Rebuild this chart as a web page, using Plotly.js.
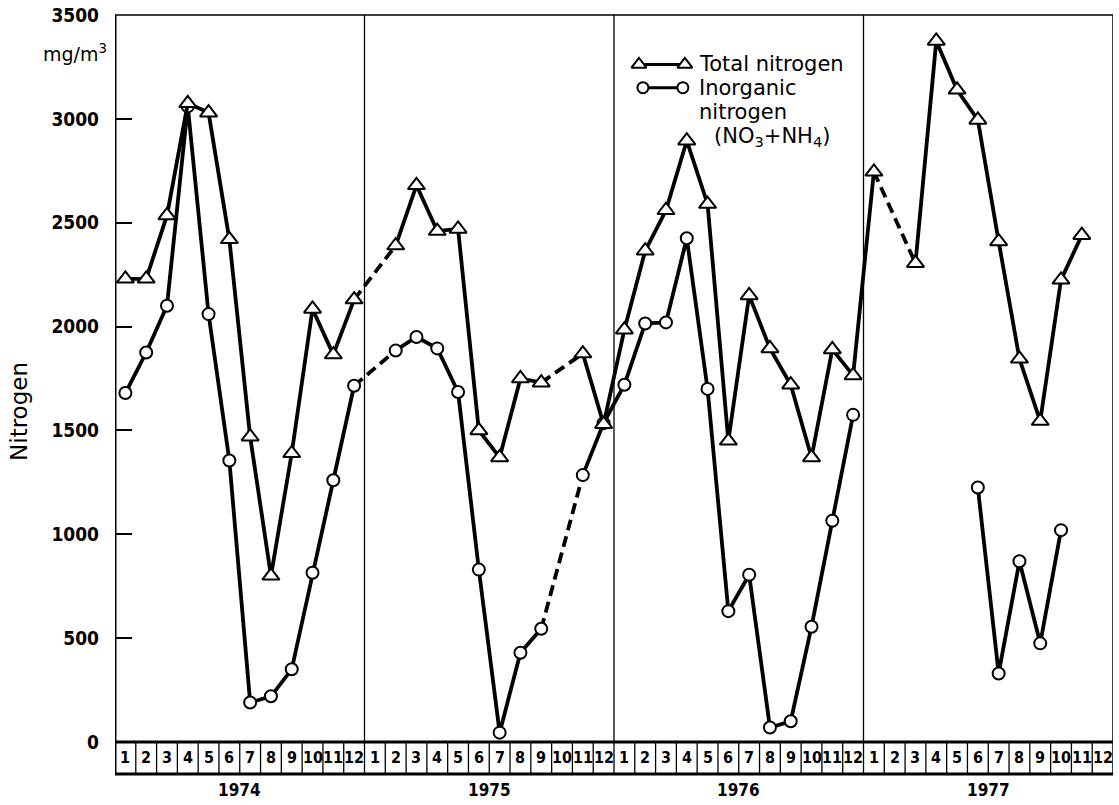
<!DOCTYPE html>
<html>
<head>
<meta charset="utf-8">
<script src="https://cdn.plot.ly/plotly-3.0.1.min.js"></script>
<style>html,body{margin:0;padding:0;background:#fff}#chart{width:1119px;height:805px}</style>
</head>
<body>
<div id="chart"></div>
<script>
// ---- data ----
var years = ['1974', '1975', '1976', '1977'];
var months = [1, 2, 3, 4, 5, 6, 7, 8, 9, 10, 11, 12];
var yTicks = [0, 500, 1000, 1500, 2000, 2500, 3000, 3500];

var total1974 = [2230, 2230, 2535, 3075, 3030, 2420, 1470, 800, 1390, 2085, 1865, 2130];
var total1975 = [null, 2390, 2680, 2460, 2470, 1500, 1370, 1750, 1730, null, 1870, 1530];
var total1976 = [1985, 2365, 2560, 2895, 2590, 1450, 2150, 1895, 1720, 1370, 1890, 1765];
var total1977 = [2745, null, 2305, 3375, 3140, 2995, 2410, 1845, 1545, 2225, 2440, null];

var inorg1974 = [1680, 1875, 2100, 3060, 2060, 1355, 190, 220, 350, 815, 1260, 1715];
var inorg1975 = [null, 1885, 1950, 1895, 1685, 830, 45, 430, 545, null, 1285, 1535];
var inorg1976 = [1720, 2015, 2020, 2425, 1700, 630, 805, 70, 100, 555, 1065, 1575];
var inorg1977 = [null, null, null, null, null, 1225, 330, 870, 475, 1020, null, null];

var totalN = total1974.concat(total1975, total1976, total1977);
var inorgN = inorg1974.concat(inorg1975, inorg1976, inorg1977);

// ---- helpers ----
var nMonths = years.length * months.length;
var xPos = [];
for (var i = 0; i < nMonths; i++) xPos.push(i + 0.5);

// dashed bridges over single missing months
function bridges(vals) {
  var bx = [], by = [];
  for (var i = 1; i < vals.length - 1; i++) {
    if (vals[i] === null && vals[i - 1] !== null && vals[i + 1] !== null) {
      bx.push(xPos[i - 1], xPos[i + 1], null);
      by.push(vals[i - 1], vals[i + 1], null);
    }
  }
  return {x: bx, y: by};
}

var numFont = 'DejaVu Sans Condensed, sans-serif';
var txtFont = 'DejaVu Sans, sans-serif';

var bT = bridges(totalN), bI = bridges(inorgN);
var dashLine = {color: '#000', width: 3.8, dash: '11px,6px'};

var traces = [
  {x: bI.x, y: bI.y, mode: 'lines', line: dashLine, hoverinfo: 'skip', showlegend: false},
  {x: bT.x, y: bT.y, mode: 'lines', line: dashLine, hoverinfo: 'skip', showlegend: false},
  {x: xPos, y: inorgN, mode: 'lines+markers', connectgaps: false, showlegend: false,
   line: {color: '#000', width: 3.8},
   marker: {symbol: 'circle', size: 12, color: '#fff', line: {color: '#000', width: 2}}},
  {x: xPos, y: totalN, mode: 'lines+markers', connectgaps: false, showlegend: false,
   line: {color: '#000', width: 3.8},
   marker: {symbol: 'triangle-up', size: 15, color: '#fff', line: {color: '#000', width: 2}}}
];

// legend key samples on an overlay axis (0..1 of the plot area)
var legKey = {triX: [0.525, 0.571], triY: 0.932, cirX: [0.529, 0.569], cirY: 0.900};
traces.push({x: legKey.triX, y: [legKey.triY, legKey.triY], xaxis: 'x2', yaxis: 'y2', mode: 'lines+markers',
  showlegend: false, hoverinfo: 'skip', line: {color: '#000', width: 3},
  marker: {symbol: 'triangle-up', size: 13, color: '#fff', line: {color: '#000', width: 2}}});
traces.push({x: legKey.cirX, y: [legKey.cirY, legKey.cirY], xaxis: 'x2', yaxis: 'y2', mode: 'lines+markers',
  showlegend: false, hoverinfo: 'skip', line: {color: '#000', width: 3},
  marker: {symbol: 'circle', size: 11, color: '#fff', line: {color: '#000', width: 2}}});

// ---- shapes ----
var boxBottom = -0.044;
var shapes = [];
function ln(x0, y0, x1, y1, w) {
  shapes.push({type: 'line', xref: 'x', yref: 'paper', x0: x0, y0: y0, x1: x1, y1: y1,
    line: {color: '#000', width: w}});
}
for (var k = 1; k < nMonths; k++) {
  if (k % months.length === 0) ln(k, boxBottom, k, 1, 1.3);
  else ln(k, boxBottom, k, 0, 1.3);
}
ln(0, boxBottom, 0, 1, 3);               // left axis
ln(nMonths, boxBottom, nMonths, 1, 1.5); // right border
ln(0, 1, nMonths, 1, 1.5);               // top border
ln(0, 0, nMonths, 0, 3);                 // baseline
ln(0, boxBottom, nMonths, boxBottom, 3); // bottom of month boxes

// ---- annotations ----
var ann = [];
for (var j = 0; j < nMonths; j++) {
  ann.push({x: xPos[j], y: -0.022, xref: 'x', yref: 'paper', text: String(months[j % 12]),
    showarrow: false, xanchor: 'center', yanchor: 'middle',
    font: {family: numFont, size: 16, color: '#000', weight: 'bold'}});
}
for (var yy = 0; yy < years.length; yy++) {
  ann.push({x: yy * 12 + 6, y: -0.066, xref: 'x', yref: 'paper', text: years[yy],
    showarrow: false, xanchor: 'center', yanchor: 'middle',
    font: {family: numFont, size: 17, color: '#000', weight: 'bold'}});
}
ann.push({x: 0, y: 0.948, xref: 'paper', yref: 'paper', xanchor: 'right', yanchor: 'middle', xshift: -6,
  text: 'mg/m<sup>3</sup>', showarrow: false, font: {family: txtFont, size: 19, color: '#000'}});
ann.push({x: 0, y: 0.454, xref: 'paper', yref: 'paper', xanchor: 'center', yanchor: 'middle', xshift: -96,
  text: 'Nitrogen', textangle: -90, showarrow: false, font: {family: txtFont, size: 23, color: '#000'}});

var legFont = {family: txtFont, size: 21, color: '#000'};
ann.push({x: 0.583, y: 0.932, xref: 'paper', yref: 'paper', xanchor: 'left', yanchor: 'middle',
  text: 'Total nitrogen', showarrow: false, font: legFont});
ann.push({x: 0.583, y: 0.900, xref: 'paper', yref: 'paper', xanchor: 'left', yanchor: 'middle',
  text: 'Inorganic', showarrow: false, font: legFont});
ann.push({x: 0.583, y: 0.867, xref: 'paper', yref: 'paper', xanchor: 'left', yanchor: 'middle',
  text: 'nitrogen', showarrow: false, font: legFont});
ann.push({x: 0.598, y: 0.832, xref: 'paper', yref: 'paper', xanchor: 'left', yanchor: 'middle',
  text: '(NO<sub>3</sub>+NH<sub>4</sub>)', showarrow: false, font: legFont});

var layout = {
  width: 1119, height: 805,
  margin: {l: 115, r: 6, t: 15, b: 63, pad: 0},
  paper_bgcolor: '#fff', plot_bgcolor: '#fff',
  showlegend: false,
  xaxis: {range: [0, nMonths], showgrid: false, zeroline: false, showline: false,
          showticklabels: false, ticks: '', fixedrange: true},
  yaxis: {range: [0, 3500], tickvals: yTicks, ticktext: yTicks.map(String), showgrid: false,
          zeroline: false, showline: false, ticks: 'inside', ticklen: 17, tickwidth: 2, tickcolor: '#000',
          ticklabelstandoff: 15,
          tickfont: {family: numFont, size: 19, color: '#000', weight: 'bold'}},
  xaxis2: {overlaying: 'x', range: [0, 1], visible: false},
  yaxis2: {overlaying: 'y', range: [0, 1], visible: false},
  shapes: shapes,
  annotations: ann
};

Plotly.newPlot('chart', traces, layout, {staticPlot: true, displayModeBar: false});
</script>
</body>
</html>
